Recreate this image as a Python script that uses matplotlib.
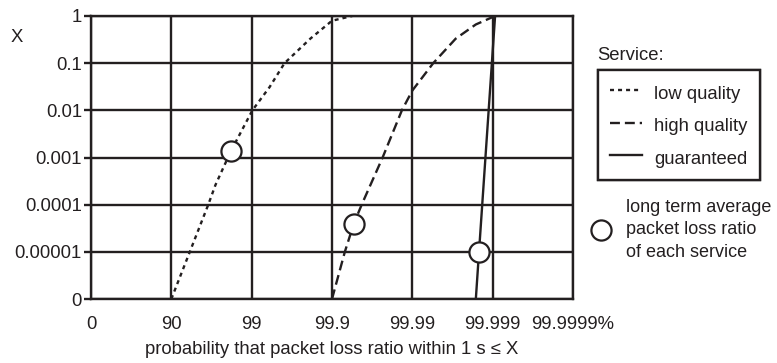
import numpy as np
import matplotlib
matplotlib.use("Agg")
from matplotlib import pyplot as plt
from matplotlib.lines import Line2D

plt.rcParams['font.family'] = ['Liberation Sans', 'DejaVu Sans']
plt.rcParams['font.size'] = 13.3

INK = '#231f20'

# axis ticks: probability (%) and packet loss ratio X
x_ticks = [0, 90, 99, 99.9, 99.99, 99.999, 99.9999]
x_labels = ['0', '90', '99', '99.9', '99.99', '99.999', '99.9999%']
y_ticks = [0, 1e-5, 1e-4, 1e-3, 1e-2, 1e-1, 1]
y_labels = ['0', '0.00001', '0.0001', '0.001', '0.01', '0.1', '1']

# curves (probability %, X)
low_p = [90, 94.11, 96.53, 97.18, 98.18, 99.02, 99.40, 99.61, 99.814, 99.9, 99.944]
low_x = [0, 1e-5, 1e-4, 2.63e-4, 1.35e-3, 0.01, 0.0309, 0.1, 0.331, 0.794, 1]

high_p = [99.9, 99.9308, 99.9463, 99.9573, 99.97656, 99.98651, 99.99,
          99.994505, 99.997116, 99.998378, 99.999067]
high_x = [0, 1e-5, 3.89e-5, 1e-4, 1e-3, 0.01, 0.0263, 0.1, 0.331, 0.661, 1]

guar_p = [99.99838, 99.998521, 99.999067]
guar_x = [0, 1e-5, 1]

# long term average packet loss ratio of each service
avg_p = [98.18, 99.9463, 99.998521]
avg_x = [1.35e-3, 3.89e-5, 1e-5]


def fwd(p):
    p = np.asarray(p, dtype=float)
    return -np.log10(np.clip(1 - p / 100, 1e-12, None))


def inv(t):
    return 100 * (1 - 10 ** (-np.asarray(t, dtype=float)))


fig = plt.figure(figsize=(7.77, 3.63), dpi=100)
ax = fig.add_axes([91 / 777, 1 - 299 / 363, 482 / 777, 283 / 363])
ax.set_xscale('function', functions=(fwd, inv))
ax.set_yscale('symlog', linthresh=1e-5, linscale=0.9)
ax.set_xlim(0, 99.9999)
ax.set_ylim(0, 1)

lw = 1.7
ax.grid(True, color=INK, lw=lw)
ax.set_axisbelow(True)
for s in ax.spines.values():
    s.set_linewidth(lw)
    s.set_color(INK)

ax.set_xticks(x_ticks)
ax.set_xticklabels(x_labels)
ax.set_yticks(y_ticks)
ax.set_yticklabels(y_labels)
ax.minorticks_off()
ax.tick_params(axis='x', length=0, pad=12, colors=INK)
ax.tick_params(axis='y', length=5, width=lw, pad=1.5, colors=INK)

ax.plot(low_p, low_x, color=INK, lw=lw, ls=(0, (1.7, 1.7)), label='low quality')
ax.plot(high_p, high_x, color=INK, lw=lw, ls=(0, (4.2, 2.1)), label='high quality')
ax.plot(guar_p, guar_x, color=INK, lw=lw, label='guaranteed')
ax.plot(avg_p, avg_x, ls='none', marker='o', ms=14.5, mfc='white', mec=INK,
        mew=1.6, zorder=5)

ax.set_xlabel('probability that packet loss ratio within 1 s ≤ X', color=INK, labelpad=6)
fig.text(17 / 777, 1 - 38 / 363, 'X', ha='center', va='center', color=INK)

fig.text(597 / 777, 1 - 55 / 363, 'Service:', ha='left', va='center', color=INK)
leg = ax.legend(loc='upper left', bbox_to_anchor=(598 / 777, 1 - 70 / 363),
                bbox_transform=fig.transFigure, borderaxespad=0, fancybox=False,
                edgecolor=INK, framealpha=1, handlelength=1.75, handletextpad=0.65,
                handleheight=1.4, labelspacing=0.6, borderpad=0.65)
leg.get_frame().set_linewidth(lw)
for t in leg.get_texts():
    t.set_color(INK)

circ = Line2D([], [], ls='none', marker='o', ms=14.5, mfc='white', mec=INK, mew=1.6)
leg2 = fig.legend([circ], ['long term average\npacket loss ratio\nof each service'],
                  loc='center left', bbox_to_anchor=(585 / 777, 1 - 230 / 363),
                  frameon=False, handlelength=1.0, handletextpad=0.85, borderaxespad=0,
                  fontsize=13)
for t in leg2.get_texts():
    t.set_color(INK)
    t.set_linespacing(1.45)
ax.add_artist(leg)

fig.savefig('out.png', dpi=100)
